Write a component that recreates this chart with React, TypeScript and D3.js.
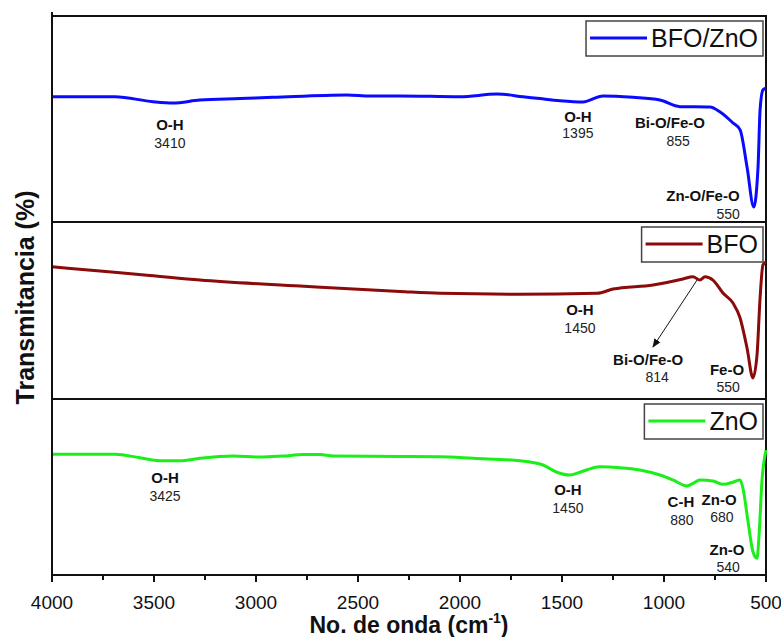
import { useEffect, useRef } from 'react';
import * as d3 from 'd3';

// wavenumber (cm-1) and relative transmittance (a.u., 0-100 per panel)
const wnBfoZno = [4000, 3691, 3505, 3407, 3275, 3078, 2917, 2554, 2441, 2294, 2000, 1819, 1691, 1608, 1510, 1397, 1299, 1152, 1020, 922, 775, 725, 662, 627, 593, 560, 539, 529, 515, 500];
const tBfoZno = [60.8, 60.8, 58.4, 57.8, 59.2, 59.9, 60.5, 61.7, 61.2, 61.2, 60.8, 62.1, 60.8, 59.9, 58.9, 58.3, 61.2, 60.5, 59.2, 56.0, 55.8, 53.4, 48.1, 44.7, 26.7, 7.3, 26.7, 54.4, 64.1, 65.0];

const wnBfo = [4000, 3765, 3520, 3275, 2784, 2294, 2098, 1721, 1328, 1250, 1054, 907, 858, 824, 799, 760, 711, 662, 627, 593, 564, 544, 529, 515, 500];
const tBfo = [74.7, 72.3, 69.8, 67.2, 63.8, 60.7, 59.7, 59.2, 59.7, 62.1, 64.4, 67.8, 69.1, 67.2, 69.1, 67.2, 59.9, 54.2, 45.8, 28.8, 11.9, 24.9, 57.1, 75.7, 77.4];

const wnZno = [4000, 3691, 3569, 3471, 3373, 3275, 3113, 2980, 2868, 2770, 2686, 2623, 2294, 2098, 1936, 1706, 1593, 1525, 1461, 1412, 1314, 1216, 1118, 1020, 956, 887, 858, 824, 760, 711, 662, 627, 613, 588, 564, 544, 534, 520, 500];
const tZno = [68.6, 68.6, 66.6, 64.9, 64.9, 66.3, 67.6, 67.0, 67.6, 68.4, 68.4, 67.6, 67.4, 67.2, 66.3, 64.9, 62.5, 58.4, 56.8, 58.4, 61.5, 61.0, 59.7, 56.8, 54.0, 50.6, 52.1, 54.0, 53.4, 51.5, 52.7, 54.0, 49.3, 30.3, 13.2, 9.5, 22.7, 53.0, 71.0];

const seriesNames = ['BFO/ZnO', 'BFO', 'ZnO'];
const seriesColors = ['#0a0aff', '#8b0a0a', '#1aef1a'];

const xTicks = [4000, 3500, 3000, 2500, 2000, 1500, 1000, 500];
const xMinorTicks = [3750, 3250, 2750, 2250, 1750, 1250, 750];

// peak labels: panel, name, number, name position (wn, t), number position (wn, t)
const peakLabels = [
	{ panel: 0, name: 'O-H', num: '3410', wn: 3422, t: 47.1, nwn: 3422, nt: 38.3 },
	{ panel: 0, name: 'O-H', num: '1395', wn: 1422, t: 51.0, nwn: 1422, nt: 43.2 },
	{ panel: 0, name: 'Bi-O/Fe-O', num: '855', wn: 971, t: 48.1, nwn: 931, nt: 39.3 },
	{ panel: 0, name: 'Zn-O/Fe-O', num: '550', wn: 809, t: 12.6, nwn: 686, nt: 3.9 },
	{ panel: 1, name: 'O-H', num: '1450', wn: 1412, t: 50.3, nwn: 1412, nt: 40.1 },
	{ panel: 1, name: 'Bi-O/Fe-O', num: '814', wn: 1078, t: 22.0, nwn: 1034, nt: 12.4 },
	{ panel: 1, name: 'Fe-O', num: '550', wn: 691, t: 16.4, nwn: 686, nt: 6.8 },
	{ panel: 2, name: 'O-H', num: '3425', wn: 3446, t: 55.1, nwn: 3446, nt: 44.9 },
	{ panel: 2, name: 'O-H', num: '1450', wn: 1471, t: 48.3, nwn: 1471, nt: 38.1 },
	{ panel: 2, name: 'C-H', num: '880', wn: 917, t: 41.5, nwn: 912, nt: 31.3 },
	{ panel: 2, name: 'Zn-O', num: '680', wn: 730, t: 42.6, nwn: 716, nt: 33.0 },
	{ panel: 2, name: 'Zn-O', num: '540', wn: 691, t: 14.2, nwn: 686, nt: 4.5 }
];

// arrow in BFO panel: from curve (wn, t) to label
const arrowFrom = { wn: 838, t: 67.2 };
const arrowTo = { wn: 1054, t: 29.4 };

export default function App() {
	const svgRef = useRef(null);

	useEffect(() => {
		const svg = d3.select(svgRef.current);
		svg.selectAll('*').remove();

		const width = 781;
		const height = 637;
		const left = 52;
		const right = 766;
		const bounds = [16, 222, 399, 575];
		const font = '"Liberation Sans", Arial, sans-serif';

		svg.attr('width', width).attr('height', height).style('font-family', font);

		const x = d3.scaleLinear().domain([4000, 500]).range([left, right]);

		const defs = svg.append('defs');
		defs.append('marker')
			.attr('id', 'arrowhead')
			.attr('viewBox', '0 0 10 10')
			.attr('refX', 9)
			.attr('refY', 5)
			.attr('markerWidth', 9)
			.attr('markerHeight', 9)
			.attr('orient', 'auto')
			.append('path')
			.attr('d', 'M0,1 L10,5 L0,9 Z')
			.attr('fill', '#111');

		const seriesWn = [wnBfoZno, wnBfo, wnZno];
		const seriesT = [tBfoZno, tBfo, tZno];

		const yScales = seriesNames.map((_, i) =>
			d3.scaleLinear().domain([0, 100]).range([bounds[i + 1], bounds[i]])
		);

		seriesNames.forEach((name, i) => {
			const y = yScales[i];
			const pts = seriesWn[i].map((wn, j) => ({ wn, t: seriesT[i][j] }));

			// panel frame
			svg.append('rect')
				.attr('x', left)
				.attr('y', bounds[i])
				.attr('width', right - left)
				.attr('height', bounds[i + 1] - bounds[i])
				.attr('fill', 'none')
				.attr('stroke', '#111')
				.attr('stroke-width', 2);

			const line = d3.line()
				.x((d) => x(d.wn))
				.y((d) => y(d.t))
				.curve(d3.curveMonotoneX);

			svg.append('path')
				.datum(pts)
				.attr('d', line)
				.attr('fill', 'none')
				.attr('stroke', seriesColors[i])
				.attr('stroke-width', 3)
				.attr('stroke-linejoin', 'round');

			// legend
			const lg = svg.append('g');
			const lgTop = bounds[i] + 5;
			const txt = lg.append('text')
				.attr('y', lgTop + 26)
				.attr('font-size', 25)
				.attr('fill', '#111')
				.text(name);
			const tw = txt.node().getComputedTextLength();
			const boxW = 4 + 57 + 4 + tw + 5;
			const boxX = 763 - boxW;
			lg.insert('rect', 'text')
				.attr('x', boxX)
				.attr('y', lgTop)
				.attr('width', boxW)
				.attr('height', 35)
				.attr('fill', '#fff')
				.attr('stroke', '#444')
				.attr('stroke-width', 1.5);
			lg.append('line')
				.attr('x1', boxX + 4)
				.attr('x2', boxX + 61)
				.attr('y1', lgTop + 17)
				.attr('y2', lgTop + 17)
				.attr('stroke', seriesColors[i])
				.attr('stroke-width', 3);
			txt.attr('x', boxX + 65);
		});

		// peak labels
		peakLabels.forEach((p) => {
			const y = yScales[p.panel];
			svg.append('text')
				.attr('x', x(p.wn))
				.attr('y', y(p.t))
				.attr('dy', '0.35em')
				.attr('text-anchor', 'middle')
				.attr('font-size', 15)
				.attr('font-weight', 'bold')
				.attr('fill', '#111')
				.text(p.name);
			svg.append('text')
				.attr('x', x(p.nwn))
				.attr('y', y(p.nt))
				.attr('dy', '0.35em')
				.attr('text-anchor', 'middle')
				.attr('font-size', 14)
				.attr('fill', '#222')
				.text(p.num);
		});

		// arrow
		svg.append('line')
			.attr('x1', x(arrowFrom.wn))
			.attr('y1', yScales[1](arrowFrom.t))
			.attr('x2', x(arrowTo.wn))
			.attr('y2', yScales[1](arrowTo.t))
			.attr('stroke', '#111')
			.attr('stroke-width', 1)
			.attr('marker-end', 'url(#arrowhead)');

		// left axis line slightly above frame
		svg.append('line')
			.attr('x1', left)
			.attr('x2', left)
			.attr('y1', 12)
			.attr('y2', bounds[3])
			.attr('stroke', '#111')
			.attr('stroke-width', 2);

		// x axis
		const axisY = bounds[3];
		const axis = svg.append('g');
		axis.selectAll('.major')
			.data(xTicks)
			.join('line')
			.attr('x1', (d) => x(d))
			.attr('x2', (d) => x(d))
			.attr('y1', axisY)
			.attr('y2', axisY + 7)
			.attr('stroke', '#111')
			.attr('stroke-width', 2);
		axis.selectAll('.minor')
			.data(xMinorTicks)
			.join('line')
			.attr('x1', (d) => x(d))
			.attr('x2', (d) => x(d))
			.attr('y1', axisY)
			.attr('y2', axisY + 5)
			.attr('stroke', '#111')
			.attr('stroke-width', 2);
		axis.selectAll('text')
			.data(xTicks)
			.join('text')
			.attr('x', (d) => x(d))
			.attr('y', axisY + 27)
			.attr('dy', '0.35em')
			.attr('text-anchor', 'middle')
			.attr('font-size', 19)
			.attr('fill', '#111')
			.text((d) => d);

		// axis titles
		const xt = svg.append('text')
			.attr('x', 409)
			.attr('y', 633)
			.attr('text-anchor', 'middle')
			.attr('font-size', 23)
			.attr('font-weight', 'bold')
			.attr('fill', '#111');
		xt.append('tspan').text('No. de onda (cm');
		xt.append('tspan').attr('font-size', 14).attr('dy', -10).text('-1');
		xt.append('tspan').attr('dy', 10).text(')');

		svg.append('text')
			.attr('transform', `translate(34,${(bounds[0] + bounds[3]) / 2 + 2}) rotate(-90)`)
			.attr('text-anchor', 'middle')
			.attr('font-size', 25)
			.attr('font-weight', 'bold')
			.attr('fill', '#111')
			.text('Transmitancia (%)');

		return () => {
			svg.selectAll('*').remove();
		};
	}, []);

	return (
		<div style={{ position: 'absolute', left: 0, top: 0, width: 781, height: 637, background: '#fff' }}>
			<svg ref={svgRef} />
		</div>
	);
}
